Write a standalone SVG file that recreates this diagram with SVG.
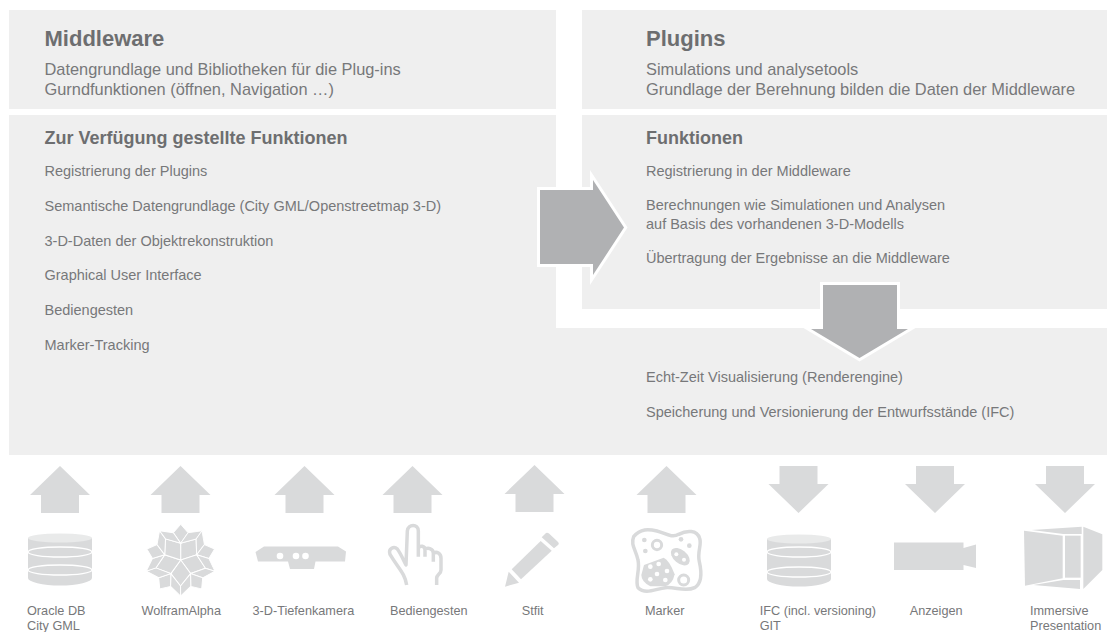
<svg xmlns="http://www.w3.org/2000/svg" xmlns:xlink="http://www.w3.org/1999/xlink" width="1107" height="632" viewBox="0 0 1107 632">
<style>
text{font-family:"Liberation Sans",Arial,sans-serif;fill:#77787a}
.h1{font-size:22px;font-weight:bold;fill:#6d6e70}
.h2{font-size:18px;font-weight:bold;fill:#6d6e70}
.b{font-size:16.400px}
.l{font-size:14.500px}
.c{font-size:12.700px}
.p{fill:#efefef}
.big{fill:#b0b1b3;stroke:#fff;stroke-width:6;stroke-linejoin:miter;stroke-miterlimit:8;paint-order:stroke}
.a{fill:#d9dadb}
.i{fill:#d9dadb}
.s{fill:none;stroke:#d9dadb;stroke-width:10.500;stroke-linecap:butt;stroke-linejoin:round}
.w{fill:none;stroke:#fff;stroke-width:1.3}
.hole{fill:#fff}
.gap{fill:#d9dadb;stroke:#fff;stroke-width:.9}
</style>
<defs>
<g id="up"><polygon class="a" points="0,-47 30,-18 19,-18 19,0 -19,0 -19,-18 -30,-18"/></g>
<g id="down"><polygon class="a" points="-19,-47 19,-47 19,-29 30,-29 0,0 -30,-29 -19,-29"/></g>
<g id="db">
<path class="i" d="M-32,-22 V18 A32,7.500 0 0 0 32,18 V-22 Z"/>
<ellipse cx="0" cy="-22" rx="32" ry="4.500" fill="#e9eaea"/>
</g>
<g id="petal">
<polygon class="gap" points="0,-34 7,-26 0,-16 -7,-26"/>
<polygon class="gap" points="0,-16 14.700,-20 15.200,-5 0,0"/>
<polygon class="gap" points="0,-16 7,-26 20.300,-27.800 14.700,-20"/>
<polygon class="gap" points="15.200,-5 22.600,-14.700 20.300,-27.800 14.700,-20"/>
</g>
</defs>

<g id="panel-middleware">
<rect class="p" x="9" y="10" width="547" height="99"/>
<text class="h1" x="44.500" y="45.500">Middleware</text>
<text class="b" x="44.500" y="75">Datengrundlage und Bibliotheken für die Plug-ins</text>
<text class="b" x="44.500" y="95">Gurndfunktionen (öffnen, Navigation …)</text>
</g>
<g id="panel-plugins">
<rect class="p" x="582" y="10" width="525" height="99"/>
<text class="h1" x="646" y="45.500">Plugins</text>
<text class="b" x="646" y="75">Simulations und analysetools</text>
<text class="b" x="646" y="95">Grundlage der Berehnung bilden die Daten der Middleware</text>
</g>
<g id="panel-funktionen-links">
<path class="p" d="M9,115 H556 V328 H1107 V455 H9 Z"/>
<text class="h2" x="44.500" y="144">Zur Verfügung gestellte Funktionen</text>
<text class="l" x="44.500" y="176">Registrierung der Plugins</text>
<text class="l" x="44.500" y="211">Semantische Datengrundlage (City GML/Openstreetmap 3-D)</text>
<text class="l" x="44.500" y="246">3-D-Daten der Objektrekonstruktion</text>
<text class="l" x="44.500" y="280">Graphical User Interface</text>
<text class="l" x="44.500" y="315">Bediengesten</text>
<text class="l" x="44.500" y="350">Marker-Tracking</text>
<text class="l" x="646" y="382">Echt-Zeit Visualisierung (Renderengine)</text>
<text class="l" x="646" y="417">Speicherung und Versionierung der Entwurfsstände (IFC)</text>
</g>
<g id="panel-funktionen-rechts">
<rect class="p" x="582" y="115" width="525" height="194"/>
<text class="h2" x="646" y="144">Funktionen</text>
<text class="l" x="646" y="176">Registrierung in der Middleware</text>
<text class="l" x="646" y="210">Berechnungen wie Simulationen und Analysen</text>
<text class="l" x="646" y="229">auf Basis des vorhandenen 3-D-Modells</text>
<text class="l" x="646" y="263">Übertragung der Ergebnisse an die Middleware</text>
</g>

<g id="connectors">
<polygon class="big" points="540,190 593,190 593,180 624,227.500 593,275 593,264 540,264"/>
<polygon class="big" points="823,285 897,285 897,329 908,329 859.500,358 811,329 823,329"/>
<use href="#up" xlink:href="#up" x="60" y="513"/>
<use href="#up" xlink:href="#up" x="180.500" y="513"/>
<use href="#up" xlink:href="#up" x="304.500" y="513"/>
<use href="#up" xlink:href="#up" x="412.500" y="513"/>
<use href="#up" xlink:href="#up" x="534.500" y="512"/>
<use href="#up" xlink:href="#up" x="666.500" y="513"/>
<use href="#down" xlink:href="#down" x="798.500" y="513"/>
<use href="#down" xlink:href="#down" x="935" y="513"/>
<use href="#down" xlink:href="#down" x="1065" y="513"/>
</g>

<g id="node-oracle">
<use href="#db" xlink:href="#db" x="60" y="560"/>
<ellipse class="w" cx="60" cy="552" rx="32" ry="5"/>
<ellipse class="w" cx="60" cy="570" rx="32" ry="5"/>
<text class="c" x="27" y="615">Oracle DB</text>
<text class="c" x="27" y="630">City GML</text>
</g>
<g id="node-wolfram">
<g transform="translate(180.700 560) scale(1.05)">
<use href="#petal" xlink:href="#petal"/>
<use href="#petal" xlink:href="#petal" transform="rotate(72)"/>
<use href="#petal" xlink:href="#petal" transform="rotate(144)"/>
<use href="#petal" xlink:href="#petal" transform="rotate(216)"/>
<use href="#petal" xlink:href="#petal" transform="rotate(288)"/>
</g>
<text class="c" x="141.500" y="615">WolframAlpha</text>
</g>
<g id="node-kamera">
<polygon class="i" points="264,546.500 338,546.500 346,551.500 345,561.500 315.500,561.500 314,569 290,569 288,561.500 258,561.500 255.500,552"/>
<circle class="hole" cx="280" cy="556" r="3.300"/>
<circle class="hole" cx="296" cy="556" r="3.300"/>
<circle class="hole" cx="305.500" cy="556" r="3.300"/>
<text class="c" x="252.500" y="615">3-D-Tiefenkamera</text>
</g>
<g id="node-bediengesten">
<g transform="translate(380 515) scale(.3333)">
<path class="s" d="M80,210 C75,175 55,160 30,118 C24,100 42,92 52,102 C62,115 70,135 78,150 L82,48 C84,26 115,26 115,48 L115,125 M115,100 C120,90 135,92 135,105 L135,125 M135,102 C145,98 160,100 160,115 L160,140 M160,115 C170,108 183,115 183,130 L183,165 C183,178 170,178 170,190 L170,210"/>
</g>
<text class="c" x="390" y="615">Bediengesten</text>
</g>
<g id="node-stift">
<polygon class="i" points="511.700,569.300 540.700,541 551.700,550.700 521,579.300"/>
<polygon class="i" points="505,586.700 508.700,571.700 519,582.700"/>
<path class="i" d="M541.700,537.300 L545,534 Q546.700,531.700 549,533.500 L557.500,541.500 Q559.800,543.300 558,545 L554,548.300 Z"/>
<text class="c" x="521.700" y="615">Stfit</text>
</g>
<g id="node-marker">
<g transform="translate(622 515) scale(.3333)">
<path class="s" d="M35,65 C55,40 80,42 105,48 C130,55 150,70 170,58 C195,45 225,45 233,70 C240,90 225,110 232,140 C240,175 240,205 218,218 C190,232 160,215 130,218 C100,222 70,240 48,218 C38,195 55,165 48,135 C42,105 25,90 35,65 Z"/>
<circle cx="105" cy="90" r="14" fill="none" stroke="#d9dadb" stroke-width="9"/>
<circle class="i" cx="67" cy="75" r="7"/><circle class="i" cx="70" cy="108" r="7"/>
<circle class="i" cx="177" cy="73" r="7"/><circle class="i" cx="202" cy="92" r="7"/>
<ellipse class="i" cx="175" cy="125" rx="33" ry="20" transform="rotate(40 175 125)"/>
<circle class="hole" cx="163" cy="118" r="6"/><circle class="hole" cx="186" cy="134" r="6"/>
<path class="i" d="M66,150 L125,128 Q142,135 158,178 Q152,207 130,214 L85,214 Q58,200 58,180 Z"/>
<circle class="hole" cx="85" cy="155" r="7"/><circle class="hole" cx="110" cy="147" r="7"/><circle class="hole" cx="135" cy="168" r="7"/><circle class="hole" cx="105" cy="177" r="7"/><circle class="hole" cx="85" cy="193" r="7"/><circle class="hole" cx="130" cy="195" r="7"/>
<circle cx="185" cy="195" r="15" fill="none" stroke="#d9dadb" stroke-width="9"/>
</g>
<text class="c" x="645" y="615">Marker</text>
</g>
<g id="node-ifc">
<use href="#db" xlink:href="#db" x="799" y="561"/>
<ellipse class="w" cx="799" cy="552" rx="32" ry="5"/>
<ellipse class="w" cx="799" cy="572" rx="32" ry="5"/>
<text class="c" x="759.700" y="615">IFC (incl. versioning)</text>
<text class="c" x="759.700" y="630">GIT</text>
</g>
<g id="node-anzeigen">
<polygon class="i" points="894,542.500 963.500,542.500 963.500,548 976,544.500 976,568 963.500,565 963.500,570 894,570"/>
<text class="c" x="909.700" y="615">Anzeigen</text>
</g>
<g id="node-immersive">
<g transform="translate(1015 515) scale(.3333)">
<polygon class="i" points="27,47 143,62 143,190 30,212"/>
<polygon class="i" points="50,45 200,35 200,57 145,57"/>
<rect class="i" x="150" y="62" width="47" height="126"/>
<polygon class="i" points="55,210 145,195 195,195 195,222"/>
<polygon class="i" points="205,35 262,58 262,165 205,222"/>
</g>
<text class="c" x="1030" y="615">Immersive</text>
<text class="c" x="1030" y="630">Presentation</text>
</g>
</svg>
